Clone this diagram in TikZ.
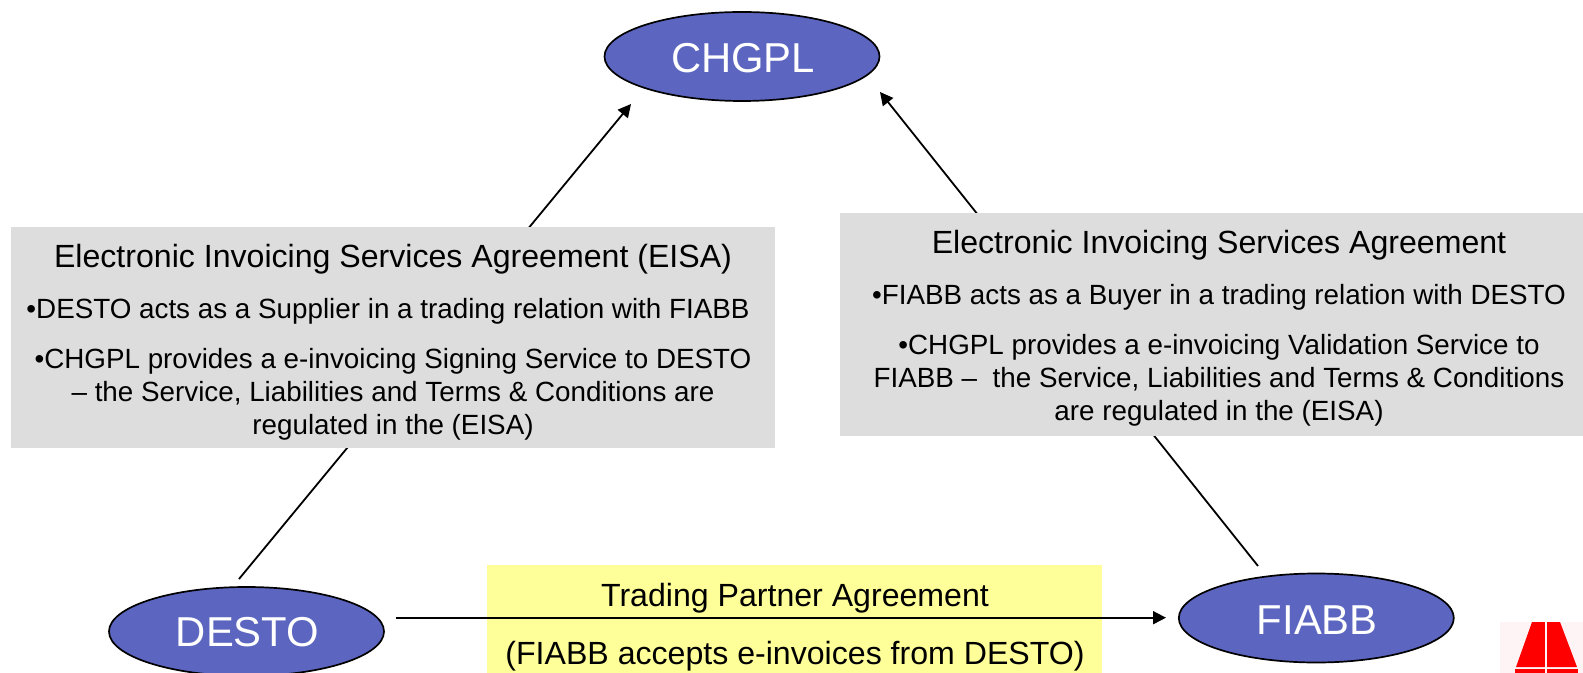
\documentclass[tikz,border=0pt]{standalone}
\usepackage{fontspec}
\setmainfont{Liberation Sans}
\usetikzlibrary{shapes.geometric,arrows.meta}
\definecolor{partyblue}{RGB}{92,102,192}
\definecolor{panelgrey}{RGB}{221,221,221}
\definecolor{paleyellow}{RGB}{255,255,153}
\definecolor{logored}{RGB}{255,0,0}
\definecolor{logopink}{RGB}{255,244,245}
\newcommand{\headfont}{\fontsize{16.05}{16.5}\selectfont}
\newcommand{\bodyfont}{\fontsize{13.9}{16.5}\selectfont}
\newcommand{\partylabel}[2]{\hspace*{1pt}\raisebox{#1}[15pt][0pt]{#2}}
\tikzset{
  party/.style={ellipse,draw=black,line width=0.85pt,fill=partyblue,text=white,
    minimum width=137.5pt,minimum height=44.5pt,inner sep=0pt,
    font=\fontsize{20.9}{24}\selectfont},
  panel/.style={rectangle,fill=panelgrey,inner sep=0pt,anchor=north west},
  tradepanel/.style={rectangle,fill=paleyellow,inner sep=0pt,anchor=north west},
  paneltext/.style={align=center,inner sep=0pt,font=\bodyfont},
  link/.style={draw=black,line width=0.9pt},
  linkarrow/.style={link,-{Triangle[length=6.5pt,width=6.5pt]}},
}
\begin{document}
\begin{tikzpicture}[x=0.5pt,y=-0.5pt]
\useasboundingbox (0,0) rectangle (1583,673);
\clip (0,0) rectangle (1583,673);
% parties
\node[party] (chgpl) at (742,56.5) {\partylabel{-0.75pt}{CHGPL}};
\node[party] (desto) at (246.5,631.5) {\partylabel{0pt}{DESTO}};
\node[party] (fiabb) at (1316.3,618) {\partylabel{-0.6pt}{FIABB}};
% free ends of the connectors
\coordinate (destoUp) at (239,579);
\coordinate (chgplL) at (631,104);
\coordinate (fiabbUp) at (1258,566);
\coordinate (chgplR) at (880,92);
\coordinate (destoE) at (395.7,617.7);
\coordinate (fiabbW) at (1166,617.7);
% connectors that pass behind the panels
\draw[linkarrow] (destoUp) -- (chgplL);
\draw[linkarrow] (fiabbUp) -- (chgplR);
% panels
\node[panel,minimum width=381.9pt,minimum height=110.5pt] (eisaL) at (10.7,226.7) {};
\node[paneltext] (eisaLtext) at (393,342.5) {\headfont Electronic Invoicing Services Agreement (EISA)\\[9pt]
  •DESTO acts as a Supplier in a trading relation with FIABB\rule{5pt}{0pt}\\[8.5pt]
  •CHGPL provides a e-invoicing Signing Service to DESTO\\
  – the Service, Liabilities and Terms \& Conditions are\\
  regulated in the (EISA)};
\node[panel,minimum width=371.7pt,minimum height=111.2pt] (eisaR) at (839.6,212.7) {};
\node[paneltext] (eisaRtext) at (1219,328) {\headfont Electronic Invoicing Services Agreement\\[9pt]
  •FIABB acts as a Buyer in a trading relation with DESTO\\[8.5pt]
  •CHGPL provides a e-invoicing Validation Service to\\
  FIABB –\ \ the Service, Liabilities and Terms \& Conditions\\
  are regulated in the (EISA)};
\node[tradepanel,minimum width=307.6pt,minimum height=54pt] (tpa) at (486.6,565) {};
\node[paneltext,font=\headfont] (tpatext) at (795,627) {Trading Partner Agreement\\[12.5pt]
  (FIABB accepts e-invoices from DESTO)};
\draw[linkarrow] (destoE) -- (fiabbW);
% logo
\fill[logopink] (1500,622) rectangle (1583,673);
\fill[logored] (1532,622) -- (1560,622) -- (1577,667) -- (1516,667) -- cycle;
\fill[logored] (1515,669) rectangle (1578,673);
\draw[logopink,line width=1pt] (1546,622) -- (1546,673);
\end{tikzpicture}
\end{document}
